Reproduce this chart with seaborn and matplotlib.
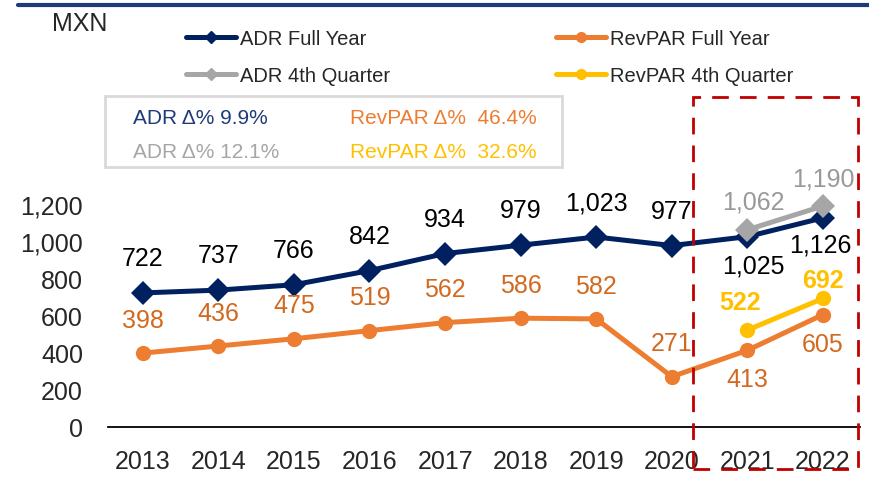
import pandas as pd
import matplotlib.pyplot as plt
import seaborn as sns
from matplotlib.lines import Line2D
from matplotlib.patches import Rectangle

# data
years = [2013, 2014, 2015, 2016, 2017, 2018, 2019, 2020, 2021, 2022]
adr_full = [722, 737, 766, 842, 934, 979, 1023, 977, 1025, 1126]
revpar_full = [398, 436, 475, 519, 562, 586, 582, 271, 413, 605]
q4_years = [2021, 2022]
adr_q4 = [1062, 1190]
revpar_q4 = [522, 692]
y_ticks = [0, 200, 400, 600, 800, 1000, 1200]

NAVY = "#002060"
ORANGE = "#ED7D31"
ORANGE_TXT = "#D2691E"
GREY = "#A6A6A6"
GOLD = "#FFC000"
FS = 18

sns.set_style("white")
plt.rcParams["font.family"] = ["Liberation Sans", "DejaVu Sans"]

fig = plt.figure(figsize=(8.7, 4.81), dpi=100)
ax = fig.add_axes([108 / 870, 53 / 481, 752 / 870, 260 / 481])

full = pd.DataFrame({"year": years, "ADR": adr_full, "RevPAR": revpar_full})
q4 = pd.DataFrame({"year": q4_years, "ADR": adr_q4, "RevPAR": revpar_q4})

sns.lineplot(data=full, x="year", y="RevPAR", ax=ax, color=ORANGE, lw=3.6,
             marker="o", markersize=11, markeredgewidth=0)
sns.lineplot(data=q4, x="year", y="RevPAR", ax=ax, color=GOLD, lw=3.6,
             marker="o", markersize=11, markeredgewidth=0)
sns.lineplot(data=full, x="year", y="ADR", ax=ax, color=NAVY, lw=3.6,
             marker="D", markersize=12, markeredgewidth=0)
sns.lineplot(data=q4, x="year", y="ADR", ax=ax, color=GREY, lw=3.6,
             marker="D", markersize=12, markeredgewidth=0)

ax.set_xlim(2012.54, 2022.49)
ax.set_ylim(0, 1400)
ax.set_xticks(years)
ax.set_yticks(y_ticks)
ax.set_yticklabels([f"{v:,}" for v in y_ticks])
ax.set_xlabel("")
ax.set_ylabel("")
ax.tick_params(axis="both", labelsize=FS, length=0)
ax.tick_params(axis="y", pad=18)
ax.tick_params(axis="x", pad=16)
for s in ["top", "right", "left"]:
    ax.spines[s].set_visible(False)
ax.spines["bottom"].set_color("black")
ax.spines["bottom"].set_linewidth(1.3)

# data labels
def label(x, v, dy, color, dx=0, bold=False):
    ax.annotate(f"{v:,}", (x, v), xytext=(dx, dy), textcoords="offset points",
                ha="center", va="center", fontsize=FS, color=color,
                fontweight="bold" if bold else "normal")

for x, v in zip(years, adr_full):
    if x >= 2021:
        label(x, v, -21 if x == 2021 else -19, "black", dx=4 if x == 2021 else -2)
    else:
        label(x, v, 25, "black")
for x, v in zip(years, revpar_full):
    if x >= 2021:
        label(x, v, -21, ORANGE_TXT)
    else:
        label(x, v, 24, ORANGE_TXT)
for x, v in zip(q4_years, adr_q4):
    label(x, v, 20, "#999999", dx=4 if x == 2021 else 0)
for x, v in zip(q4_years, revpar_q4):
    label(x, v, 20 if x == 2021 else 13, GOLD, dx=-5 if x == 2021 else 0, bold=True)

# legend
h_adr = Line2D([], [], color=NAVY, lw=3.6, marker="D", markersize=6)
h_adr_q = Line2D([], [], color=GREY, lw=3.6, marker="D", markersize=6)
h_rev = Line2D([], [], color=ORANGE, lw=3.6, marker="o", markersize=7)
h_rev_q = Line2D([], [], color=GOLD, lw=3.6, marker="o", markersize=7)
leg_kw = dict(loc="upper left", frameon=False, fontsize=14.5, handlelength=2.5,
              handletextpad=0.2, labelspacing=0.9, borderpad=0)
fig.legend([h_adr, h_adr_q], ["ADR Full Year", "ADR 4th Quarter"],
           bbox_to_anchor=(176 / 870, 1 - 20 / 481), **leg_kw)
fig.legend([h_rev, h_rev_q], ["RevPAR Full Year", "RevPAR 4th Quarter"],
           bbox_to_anchor=(546 / 870, 1 - 20 / 481), **leg_kw)

fig.text(52 / 870, 1 - 24 / 481, "MXN", fontsize=FS, va="center", ha="left")

# growth box
fig.patches.append(Rectangle((105 / 870, 1 - 168 / 481), 457 / 870, 71 / 481,
                             transform=fig.transFigure, fill=False,
                             edgecolor="#D9D9D9", lw=2))
BOX_FS = 15
fig.text(133 / 870, 1 - 119 / 481, "ADR \u0394% 9.9%", color="#1F3A7A",
         fontsize=BOX_FS, va="center")
fig.text(133 / 870, 1 - 152 / 481, "ADR \u0394% 12.1%", color=GREY,
         fontsize=BOX_FS, va="center")
fig.text(350 / 870, 1 - 119 / 481, "RevPAR \u0394%  46.4%", color=ORANGE,
         fontsize=BOX_FS, va="center")
fig.text(350 / 870, 1 - 152 / 481, "RevPAR \u0394%  32.6%", color=GOLD,
         fontsize=BOX_FS, va="center")

# dashed highlight around 2021-2022
fig.patches.append(Rectangle((693 / 870, 11 / 481), 165 / 870, 372 / 481,
                             transform=fig.transFigure, fill=False,
                             edgecolor="#C00000", lw=2, ls=(0, (6, 4))))

# rule under the (cropped) title
fig.add_artist(Line2D([18 / 870, 1], [1 - 6 / 481, 1 - 6 / 481],
                      transform=fig.transFigure, color="#1F3A7A", lw=3))

fig.savefig("out.png", dpi=100)
